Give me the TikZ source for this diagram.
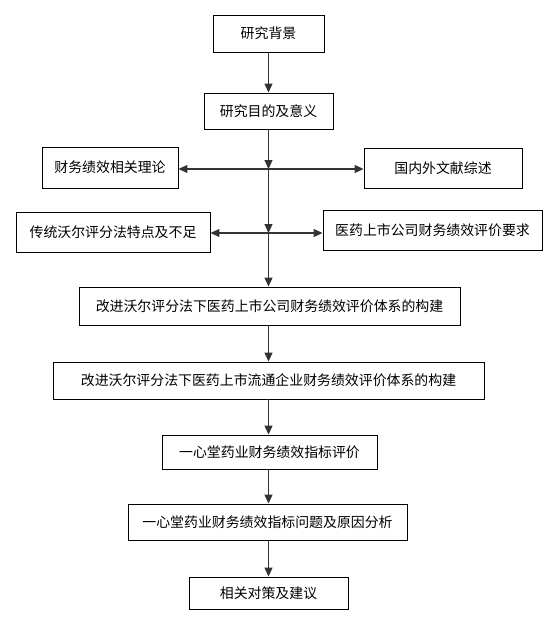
\documentclass[tikz,border=0pt]{standalone}
\usepackage{fontspec}
\newfontfamily\cjk{Noto Sans CJK SC}
\usetikzlibrary{arrows.meta}
\tikzset{
  box/.style={draw=black, line width=0.9pt, fill=white, inner sep=0pt, font=\cjk\fontsize{13.9}{16}\selectfont},
  conn/.style={draw=black!80, line width=1.2pt, -{Triangle[width=8pt,length=9pt]}},
  plain/.style={draw=black!80, line width=1.2pt}
}
\begin{document}
\begin{tikzpicture}[x=1pt,y=-1pt]
\useasboundingbox (0,0) rectangle (549,623);
\node[box, minimum width=111pt, minimum height=37pt] (b1) at (268.5,33.5) {研究背景};
\node[box, minimum width=129pt, minimum height=36pt] (b2) at (268.5,111) {研究目的及意义};
\node[box, minimum width=136pt, minimum height=41pt] (b3) at (110,167.5) {财务绩效相关理论};
\node[box, minimum width=158pt, minimum height=40pt] (b4) at (443,168) {国内外文献综述};
\node[box, minimum width=194pt, minimum height=40pt] (b5) at (113,232) {传统沃尔评分法特点及不足};
\node[box, minimum width=219pt, minimum height=40pt] (b6) at (432.5,230) {医药上市公司财务绩效评价要求};
\node[box, minimum width=381pt, minimum height=38pt] (b7) at (269.5,306) {改进沃尔评分法下医药上市公司财务绩效评价体系的构建};
\node[box, minimum width=431pt, minimum height=37pt] (b8) at (268.5,380.5) {改进沃尔评分法下医药上市流通企业财务绩效评价体系的构建};
\node[box, minimum width=215pt, minimum height=34pt] (b9) at (269.5,452) {一心堂药业财务绩效指标评价};
\node[box, minimum width=279pt, minimum height=36pt] (b10) at (267.5,522) {一心堂药业财务绩效指标问题及原因分析};
\node[box, minimum width=159pt, minimum height=32pt] (b11) at (268.5,593) {相关对策及建议};
\coordinate (j1) at (268.5,169);
\coordinate (j2) at (268.5,233);
\draw[conn] (b1.south) -- (b1.south |- b2.north);
\draw[conn] (b2.south) -- (j1);
\draw[conn] (j1) -- (j2);
\draw[conn] (j2) -- (j2 |- b7.north);
\draw[conn] (j1) -- (b3.east |- j1);
\draw[conn] (j1) -- (b4.west |- j1);
\draw[conn] (j2) -- (b5.east |- j2);
\draw[conn] (j2) -- (b6.west |- j2);
\draw[conn] (b7.south -| j2) -- (j2 |- b8.north);
\draw[conn] (b8.south -| j2) -- (j2 |- b9.north);
\draw[conn] (b9.south -| j2) -- (j2 |- b10.north);
\draw[conn] (b10.south -| j2) -- (j2 |- b11.north);
\end{tikzpicture}
\end{document}
